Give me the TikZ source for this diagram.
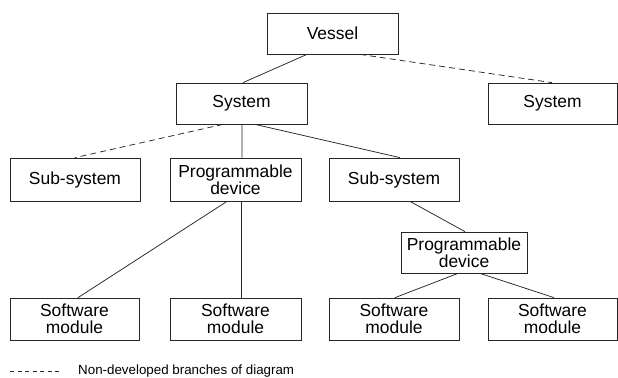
\documentclass[tikz,border=0pt]{standalone}
\usepackage{fontspec}
\setmainfont{Liberation Sans}
\begin{document}
\begin{tikzpicture}[x=1bp,y=-1bp,
  box/.style={draw=black!85,line width=0.75bp,rectangle,inner sep=0pt,align=center,
    font=\fontsize{17.5}{16.8}\selectfont,minimum height=42bp},
  link/.style={draw=black!85,line width=0.75bp},
  undev/.style={draw=black!85,line width=0.75bp,dash pattern=on 6bp off 4bp}]
\useasboundingbox (0,0) rectangle (618,377);
\node[box,minimum width=131bp,minimum height=41bp] (vessel) at (332.5,33.5) {Vessel};
\node[box,minimum width=131bp,minimum height=41bp] (sys) at (241.5,103.5) {System};
\node[box,minimum width=129bp,minimum height=41bp] (sysR) at (552.5,103.5) {System};
\node[box,minimum width=130bp,minimum height=43bp] (subL) at (75,179.5) {Sub-system};
\node[box,minimum width=131bp,minimum height=43bp] (pd) at (235.5,179.5) {Programmable\\device};
\node[box,minimum width=130bp,minimum height=43bp] (subM) at (394,179.5) {Sub-system};
\node[box,minimum width=126bp,minimum height=41bp] (pdR) at (464,252.5) {Programmable\\device};
\node[box,minimum width=129bp] (m1) at (74.5,319) {Software\\module};
\node[box,minimum width=131bp] (m2) at (235.5,319) {Software\\module};
\node[box,minimum width=130bp] (m3) at (394,319) {Software\\module};
\node[box,minimum width=129bp] (m4) at (552.5,319) {Software\\module};
% connectors
\draw[link] ([xshift=-25.5bp]vessel.south) -- ([xshift=1.5bp]sys.north);
\draw[undev] ([xshift=27.5bp]vessel.south) -- ([xshift=-0.5bp]sysR.north);
\draw[undev] ([xshift=-18.5bp]sys.south) -- (subL.north);
\draw[link] ([xshift=0.5bp]sys.south) -- ([xshift=6.5bp]pd.north);
\draw[link] ([xshift=13.5bp]sys.south) -- ([xshift=6bp]subM.north);
\draw[link] ([xshift=-8.5bp]pd.south) -- ([xshift=3.5bp]m1.north);
\draw[link] ([xshift=6bp]pd.south) -- ([xshift=6bp]m2.north);
\draw[link] ([xshift=16bp]subM.south) -- ([xshift=1bp]pdR.north);
\draw[link] ([xshift=-6bp]pdR.south) -- ([xshift=1bp]m3.north);
\draw[link] ([xshift=16bp]pdR.south) -- ([xshift=1.5bp]m4.north);
% legend
\coordinate (la) at (10,371.5);
\coordinate (lb) at (62,371.5);
\draw[draw=black!85,line width=0.8bp,dash pattern=on 4bp off 3.5bp] (la) -- (lb);
\node[anchor=west,inner sep=0pt,font=\fontsize{13.4}{14}\selectfont] (legend) at (78,371) {Non-developed branches of diagram};
\end{tikzpicture}
\end{document}
